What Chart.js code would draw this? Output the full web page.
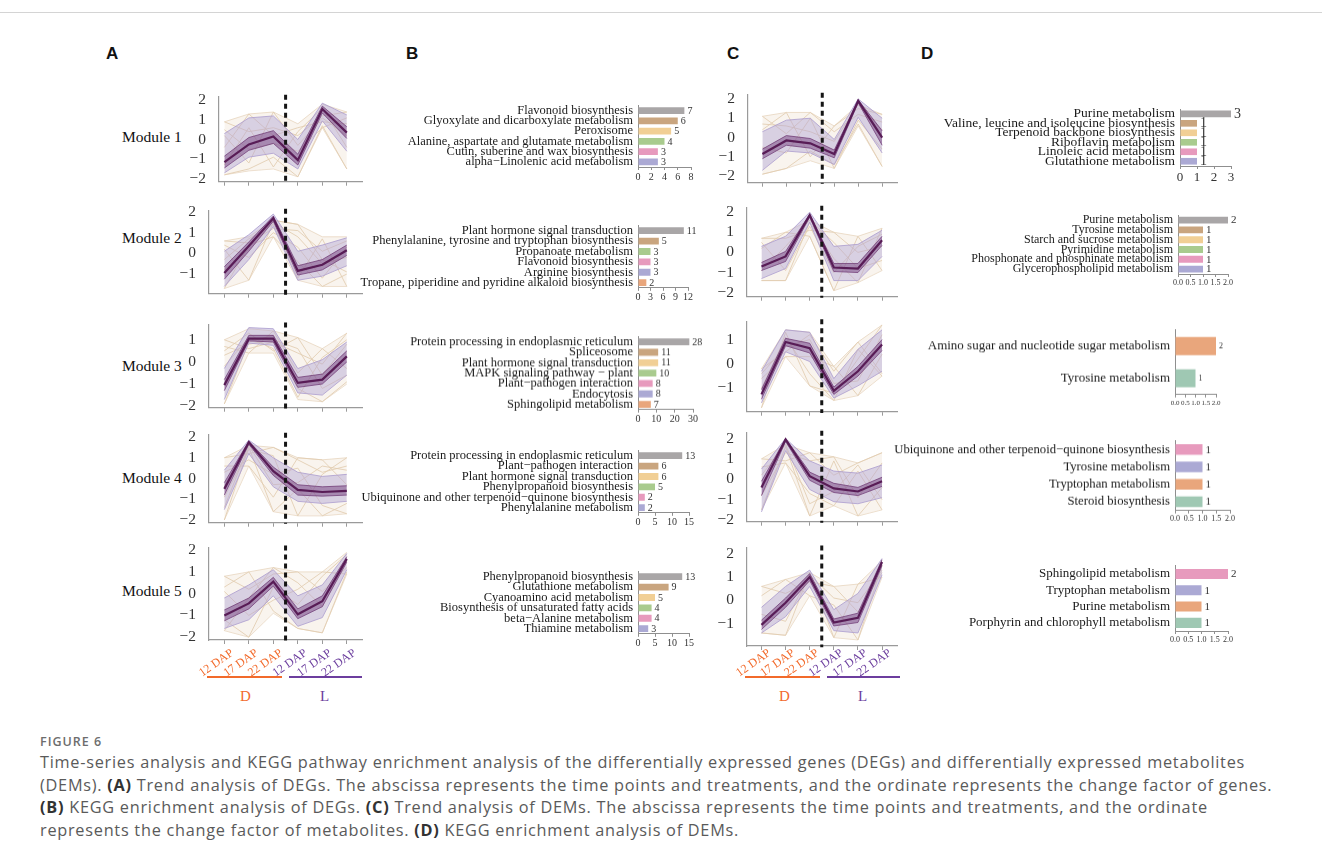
<!DOCTYPE html>
<html>
<head>
<meta charset="utf-8">
<script src="https://cdn.jsdelivr.net/npm/chart.js@4.4.0/dist/chart.umd.min.js"></script>
<style>
  body { margin: 0; background: #fff; width: 1322px; height: 857px; position: relative; overflow: hidden; font-family: 'Liberation Serif', serif; }
  .box { position: absolute; }
  .letter { position: absolute; font: bold 17px 'Liberation Sans', Arial, sans-serif; color: #111; }
  .module { position: absolute; font-size: 15.5px; line-height: 18px; color: #111; }
  .grp { position: absolute; font-size: 15px; }
  .rule { position: absolute; height: 2px; }
  #figtitle { position: absolute; left: 40px; top: 733px; font: 600 12.5px 'Open Sans', sans-serif; color: #6d6d6d; letter-spacing: 1px; }
  #caption { position: absolute; left: 40px; top: 751px; font: 16.3px/22.5px 'Open Sans', sans-serif; letter-spacing: 0.74px; color: #5a5a5a; white-space: nowrap; }
  #caption b { color: #333; }
</style>
</head>
<body>
<div style="position:absolute;left:0;top:12px;width:1322px;height:1px;background:#d4d4d4"></div>

<div class="letter" style="left:106px;top:44px">A</div>
<div class="letter" style="left:406px;top:44px">B</div>
<div class="letter" style="left:727px;top:44px">C</div>
<div class="letter" style="left:921px;top:44px">D</div>

<div class="module" style="left:122px;top:128px">Module 1</div>
<div class="module" style="left:122px;top:229px">Module 2</div>
<div class="module" style="left:122px;top:357px">Module 3</div>
<div class="module" style="left:122px;top:469px">Module 4</div>
<div class="module" style="left:122px;top:582px">Module 5</div>

<div class="rule" style="left:207px;top:676px;width:75px;background:#f26a2b"></div>
<div class="rule" style="left:289px;top:676px;width:73px;background:#6c3e9e"></div>
<div class="grp" style="left:240px;top:688px;color:#f26a2b">D</div>
<div class="grp" style="left:320px;top:688px;color:#6c3e9e">L</div>
<div class="rule" style="left:745px;top:676px;width:75px;background:#f26a2b"></div>
<div class="rule" style="left:827px;top:676px;width:73px;background:#6c3e9e"></div>
<div class="grp" style="left:779px;top:688px;color:#f26a2b">D</div>
<div class="grp" style="left:858px;top:688px;color:#6c3e9e">L</div>

<div id="figtitle">FIGURE 6</div>
<div id="caption">Time-series analysis and KEGG pathway enrichment analysis of the differentially expressed genes (DEGs) and differentially expressed metabolites<br>(DEMs). <b>(A)</b> Trend analysis of DEGs. The abscissa represents the time points and treatments, and the ordinate represents the change factor of genes.<br><b>(B)</b> KEGG enrichment analysis of DEGs. <b>(C)</b> Trend analysis of DEMs. The abscissa represents the time points and treatments, and the ordinate<br>represents the change factor of metabolites. <b>(D)</b> KEGG enrichment analysis of DEMs.</div>

<script>
// ---- time axis ----
const timeLabels = ['12 DAP', '17 DAP', '22 DAP', '12 DAP', '17 DAP', '22 DAP'];
const dividerX = 3.5;

// ---- A: DEG trend modules (core line, inner band, outer band, haze, single lines) ----
const a1Core = [-1.15, -0.25, 0.15, -1.05, 1.55, 0.35];
const a1Inner = [[-0.85, 0.1, 0.45, -0.75, 1.7, 0.65], [-1.45, -0.55, -0.2, -1.3, 1.35, 0.05]];
const a1Band = [[0.3, 1.1, 1.2, 0.0, 1.85, 1.25], [-1.7, -0.9, -0.7, -1.5, 0.95, -0.6]];
const a1Haze = [[0.9, 1.3, 1.4, 0.8, 1.8, 1.4], [-1.8, -1.6, -1.5, -1.9, 0.6, -1.5]];
const a1Beige = [[0.9, 0.4, 0.6, 0.2, 1.2, 1.4], [-0.4, 1.3, 0.2, 0.6, 0.9, 0.8], [-1.8, -1.5, -0.9, -1.9, 0.7, -1.5],
                 [0.2, -1.2, 1.4, -0.3, 1.1, 0.2], [-1.3, 0.6, -1.4, 0.4, 1.6, -0.4], [0.5, -0.5, -0.2, -0.6, 0.6, 1.1]];

const a2Core = [-0.95, 0.35, 1.7, -0.85, -0.55, 0.15];
const a2Inner = [[-0.65, 0.55, 1.8, -0.6, -0.3, 0.4], [-1.25, 0.1, 1.55, -1.05, -0.8, -0.1]];
const a2Band = [[0.1, 0.9, 1.9, 0.1, 0.4, 0.75], [-1.6, -0.3, 1.3, -1.3, -1.1, -0.6]];
const a2Haze = [[0.6, 0.8, 1.6, 1.4, 0.8, 0.8], [-1.7, -1.3, 0.8, -1.3, -1.6, -1.6]];
const a2Beige = [[0.6, 0.5, 1.2, 1.1, 0.1, 0.6], [0.2, -1.3, 1.5, 0.8, -0.5, -0.2], [-1.7, 0.4, 0.8, -0.4, -1.6, -1.0],
                 [-0.3, 0.7, 1.4, -1.2, 0.7, -1.6], [0.4, -0.2, 1.0, 0.3, -1.2, 0.3], [-0.8, 0.2, 1.6, 1.4, -0.3, -0.9]];

const a3Core = [-1.05, 1.05, 1.05, -0.95, -0.8, 0.25];
const a3Inner = [[-0.8, 1.2, 1.2, -0.7, -0.55, 0.5], [-1.3, 0.95, 0.9, -1.15, -1.0, 0.0]];
const a3Band = [[-0.3, 1.55, 1.5, -0.3, 0.1, 0.9], [-1.7, 0.85, 0.75, -1.4, -1.5, -0.6]];
const a3Haze = [[1.0, 1.5, 1.4, 1.1, 0.6, 1.3], [-1.9, 0.4, 0.4, -1.7, -1.8, -1.0]];
const a3Beige = [[1.0, 0.6, 0.9, 0.4, -0.1, 1.3], [0.5, 1.3, 0.5, 1.1, -0.6, 0.8], [-1.9, 0.9, 1.2, -1.2, -1.8, -0.9],
                 [0.7, 0.4, 1.4, -0.5, 0.6, -0.3], [-0.2, 1.1, 0.6, -1.6, 0.2, 1.0], [0.3, 0.8, 1.0, 0.6, -1.2, -0.6]];

const a4Core = [-0.5, 1.75, 0.35, -0.55, -0.65, -0.6];
const a4Inner = [[-0.2, 1.8, 0.55, -0.3, -0.4, -0.35], [-0.8, 1.65, 0.15, -0.8, -0.85, -0.8]];
const a4Band = [[0.4, 1.85, 1.0, 0.3, 0.1, 0.2], [-1.5, 1.2, -0.4, -1.1, -1.2, -1.1]];
const a4Haze = [[1.0, 1.6, 1.5, 1.0, 0.9, 1.0], [-2.0, 0.6, -1.6, -1.8, -1.8, -1.7]];
const a4Beige = [[1.0, 1.2, 1.5, 0.9, 0.3, 0.6], [-2.0, 1.5, -1.6, -0.5, -1.8, -1.2], [0.6, 0.6, -0.9, 1.0, 0.9, -0.3],
                 [-0.9, 1.4, 1.1, -1.8, 0.2, 1.0], [0.3, 0.9, 0.2, 0.5, -1.3, -1.7], [-1.4, 1.6, -0.3, -0.2, 0.6, 0.4]];

const a5Core = [-1.0, -0.45, 0.55, -0.95, -0.35, 1.6];
const a5Inner = [[-0.75, -0.2, 0.75, -0.7, -0.1, 1.7], [-1.25, -0.7, 0.35, -1.15, -0.6, 1.45]];
const a5Band = [[-0.2, 0.4, 1.1, -0.1, 0.4, 1.85], [-1.6, -1.2, -0.1, -1.5, -1.1, 1.1]];
const a5Haze = [[0.8, 1.0, 1.2, 1.0, 1.0, 1.9], [-1.7, -2.0, -0.9, -1.6, -1.8, 0.9]];
const a5Beige = [[0.8, 0.2, 0.9, 1.0, 0.1, 1.2], [-1.2, -2.0, 0.3, -0.5, 0.8, 1.8], [0.3, 1.0, -0.8, -1.6, -1.8, 1.0],
                 [-1.7, -0.2, 1.2, 0.5, -0.6, 1.5], [0.1, -1.0, -0.3, 0.2, 1.0, 0.9]];

// ---- C: DEM trend modules ----
const c1Core = [-0.85, -0.15, -0.3, -0.85, 1.9, 0.0];
const c1Inner = [[-0.6, 0.1, -0.05, -0.65, 1.95, 0.35], [-1.1, -0.4, -0.55, -1.05, 1.8, -0.4]];
const c1Band = [[0.3, 0.9, 1.0, -0.1, 2.0, 1.0], [-1.7, -0.7, -0.8, -1.4, 1.05, -0.8]];
const c1Haze = [[1.1, 1.3, 1.3, 0.6, 1.7, 1.2], [-1.9, -1.6, -1.2, -1.6, 0.6, -1.5]];
const c1Beige = [[1.1, 0.2, 1.3, 0.3, 1.2, 0.8], [-1.9, -1.6, -0.7, -1.4, 0.7, -1.5], [0.4, 1.3, -1.0, 0.6, 1.5, 1.2],
                 [-0.5, -0.8, 1.0, -1.6, 0.9, -0.6], [0.7, 0.6, 0.3, -0.2, 1.7, 0.4]];

const c2Core = [-0.7, -0.2, 1.85, -0.75, -0.8, 0.6];
const c2Inner = [[-0.5, 0.05, 1.9, -0.55, -0.55, 0.8], [-0.9, -0.45, 1.75, -0.95, -1.0, 0.35]];
const c2Band = [[0.3, 0.8, 2.0, 0.3, 0.4, 1.1], [-1.3, -0.8, 1.5, -1.4, -1.4, -0.2]];
const c2Haze = [[0.7, 1.0, 1.6, 1.0, 0.8, 1.2], [-1.4, -1.4, 0.8, -1.9, -1.5, -0.9]];
const c2Beige = [[0.7, 0.7, 1.1, 1.0, 0.0, 0.3], [-1.4, -1.4, 1.5, -0.3, -1.5, 1.2], [0.2, 1.0, 0.8, -1.9, 0.8, -0.9],
                 [-0.9, 0.3, 1.6, 0.5, -0.8, -0.4], [0.5, -0.9, 1.3, -1.0, 0.3, 0.9]];

const c3Core = [-1.25, 0.9, 0.65, -1.1, -0.3, 0.8];
const c3Inner = [[-1.05, 1.05, 0.85, -0.95, -0.1, 1.0], [-1.45, 0.75, 0.45, -1.25, -0.5, 0.55]];
const c3Band = [[-0.3, 1.4, 1.3, -0.6, 0.6, 1.4], [-1.6, 0.5, 0.1, -1.4, -0.9, -0.3]];
const c3Haze = [[-0.2, 1.4, 1.3, -0.1, 0.9, 1.6], [-1.8, 0.3, -0.9, -1.5, -1.3, -0.5]];
const c3Beige = [[-0.2, 0.5, 1.2, -0.3, 0.9, -0.4], [-1.8, 1.3, -0.9, -1.2, 0.2, 1.6], [-0.6, 0.3, 0.3, -0.1, -1.3, 0.4],
                 [-1.0, 1.1, -0.4, -1.5, 0.6, -0.5], [-0.4, 0.7, 1.0, -0.8, -0.7, 1.2]];

const c4Core = [-0.4, 1.95, 0.15, -0.45, -0.6, -0.1];
const c4Inner = [[-0.1, 2.0, 0.35, -0.2, -0.4, 0.1], [-0.8, 1.85, -0.05, -0.65, -0.8, -0.35]];
const c4Band = [[0.5, 2.0, 0.9, 0.4, 0.3, 0.7], [-1.6, 1.4, -0.5, -1.1, -1.2, -0.9]];
const c4Haze = [[1.0, 1.7, 1.3, 1.1, 0.8, 1.3], [-1.5, 0.8, -1.8, -1.3, -1.8, -1.5]];
const c4Beige = [[1.0, 0.9, 1.3, 0.2, 0.8, 1.3], [-1.5, 1.6, -1.8, 0.9, -1.8, -0.4], [0.6, 0.8, -0.7, -1.3, 0.4, -1.5],
                 [-0.8, 1.3, 0.9, 1.1, -0.9, 0.8], [0.2, 1.7, -1.2, -0.6, 0.7, -1.0]];

const c5Core = [-1.05, -0.1, 1.0, -0.95, -0.75, 1.65];
const c5Inner = [[-0.85, 0.1, 1.15, -0.8, -0.55, 1.75], [-1.25, -0.3, 0.85, -1.1, -0.95, 1.5]];
const c5Band = [[-0.3, 0.6, 1.3, -0.4, 0.3, 1.8], [-1.4, -0.7, 0.6, -1.3, -1.4, 1.1]];
const c5Haze = [[0.6, 0.9, 1.2, 0.6, 0.7, 1.7], [-1.4, -1.5, 0.2, -1.6, -1.7, 1.0]];
const c5Beige = [[0.6, 0.3, 0.8, 0.6, -0.5, 1.2], [-1.4, -1.5, 1.2, -1.6, 0.7, 1.0], [0.2, 0.9, 0.2, -0.2, -1.7, 1.5],
                 [-0.6, -0.9, 1.1, 0.1, -0.1, 1.3]];

// ---- B: KEGG enrichment of DEGs ----
const b1Paths = ['Flavonoid biosynthesis', 'Glyoxylate and dicarboxylate metabolism', 'Peroxisome',
                 'Alanine, aspartate and glutamate metabolism', 'Cutin, suberine and wax biosynthesis', 'alpha\u2212Linolenic acid metabolism'];
const b1Counts = [7, 6, 5, 4, 3, 3];
const b2Paths = ['Plant hormone signal transduction', 'Phenylalanine, tyrosine and tryptophan biosynthesis', 'Propanoate metabolism',
                 'Flavonoid biosynthesis', 'Arginine biosynthesis', 'Tropane, piperidine and pyridine alkaloid biosynthesis'];
const b2Counts = [11, 5, 3, 3, 3, 2];
const b3Paths = ['Protein processing in endoplasmic reticulum', 'Spliceosome', 'Plant hormone signal transduction',
                 'MAPK signaling pathway \u2212 plant', 'Plant\u2212pathogen interaction', 'Endocytosis', 'Sphingolipid metabolism'];
const b3Counts = [28, 11, 11, 10, 8, 8, 7];
const b4Paths = ['Protein processing in endoplasmic reticulum', 'Plant\u2212pathogen interaction', 'Plant hormone signal transduction',
                 'Phenylpropanoid biosynthesis', 'Ubiquinone and other terpenoid\u2212quinone biosynthesis', 'Phenylalanine metabolism'];
const b4Counts = [13, 6, 6, 5, 2, 2];
const b5Paths = ['Phenylpropanoid biosynthesis', 'Glutathione metabolism', 'Cyanoamino acid metabolism',
                 'Biosynthesis of unsaturated fatty acids', 'beta\u2212Alanine metabolism', 'Thiamine metabolism'];
const b5Counts = [13, 9, 5, 4, 4, 3];

// ---- D: KEGG enrichment of DEMs ----
const d1Paths = ['Purine metabolism', 'Valine, leucine and isoleucine biosynthesis', 'Terpenoid backbone biosynthesis',
                 'Riboflavin metabolism', 'Linoleic acid metabolism', 'Glutathione metabolism'];
const d1Counts = [3, 1, 1, 1, 1, 1];
const d2Paths = ['Purine metabolism', 'Tyrosine metabolism', 'Starch and sucrose metabolism', 'Pyrimidine metabolism',
                 'Phosphonate and phosphinate metabolism', 'Glycerophospholipid metabolism'];
const d2Counts = [2, 1, 1, 1, 1, 1];
const d3Paths = ['Amino sugar and nucleotide sugar metabolism', 'Tyrosine metabolism'];
const d3Counts = [2, 1];
const d4Paths = ['Ubiquinone and other terpenoid\u2212quinone biosynthesis', 'Tyrosine metabolism', 'Tryptophan metabolism', 'Steroid biosynthesis'];
const d4Counts = [1, 1, 1, 1];
const d5Paths = ['Sphingolipid metabolism', 'Tryptophan metabolism', 'Purine metabolism', 'Porphyrin and chlorophyll metabolism'];
const d5Counts = [2, 1, 1, 1];

// palette
const GRAY = '#a9a6a7', TAN = '#c9a57f', YEL = '#f1cf95', GRN = '#a9cb8e', PINK = '#e79abd',
      LAV = '#aba9d4', ORA = '#e9a67c', TEAL = '#9fc8b3';
const ORANGE = '#f26a2b', PURPLE = '#6c3e9e';
const SERIF = "'Liberation Serif', 'Times New Roman', serif";

function addBox(area, pad) {
  const div = document.createElement('div');
  div.className = 'box';
  div.style.left = (area.l - pad.l) + 'px';
  div.style.top = (area.t - pad.t) + 'px';
  div.style.width = (area.r - area.l + pad.l + pad.r) + 'px';
  div.style.height = (area.b - area.t + pad.t + pad.b) + 'px';
  const cv = document.createElement('canvas');
  div.appendChild(cv);
  document.body.appendChild(div);
  return cv;
}

const pts = arr => arr.map((y, i) => ({ x: i + 1, y }));

function trendChart(area, xMin, yMin, yMax, yTicks, core, inner, band, haze, beige, labelPad) {
  const withLabels = labelPad !== undefined;
  const pad = { l: 45, t: 10, r: 10, b: withLabels ? 50 : 10 };
  const cv = addBox(area, pad);
  const datasets = [
    { data: [{ x: dividerX, y: yMax + 0.08 }, { x: dividerX, y: yMin - 0.05 }], borderColor: '#151515', borderWidth: 3,
      borderDash: [5, 4], order: 0, clip: false },
    { data: pts(core), borderColor: '#581c56', borderWidth: 2.2, order: 1 },
    { data: pts(inner[0]), borderColor: 'rgba(105,50,110,0.7)', borderWidth: 1, fill: '+1', backgroundColor: 'rgba(118,66,128,0.5)', order: 2 },
    { data: pts(inner[1]), borderColor: 'rgba(105,50,110,0.7)', borderWidth: 1, order: 2 },
    { data: pts(band[0]), borderColor: 'rgba(170,155,205,0.8)', borderWidth: 1, fill: '+1', backgroundColor: 'rgba(178,163,212,0.45)', order: 3 },
    { data: pts(band[1]), borderColor: 'rgba(170,155,205,0.8)', borderWidth: 1, order: 3 },
  ];
  beige.forEach(line => datasets.push({ data: pts(line), borderColor: 'rgba(226,204,176,0.85)', borderWidth: 1, order: 4 }));
  datasets.push({ data: pts(haze[0]), borderColor: 'rgba(228,208,182,0.7)', borderWidth: 1, fill: '+1', backgroundColor: 'rgba(240,228,212,0.4)', order: 5 });
  datasets.push({ data: pts(haze[1]), borderColor: 'rgba(228,208,182,0.7)', borderWidth: 1, order: 5 });

  return new Chart(cv.getContext('2d'), {
    type: 'line',
    data: { datasets },
    options: {
      responsive: true, maintainAspectRatio: false, animation: false,
      layout: { padding: { top: pad.t, right: pad.r, left: 0, bottom: 0 } },
      plugins: { legend: { display: false }, tooltip: { enabled: false } },
      elements: { point: { radius: 0 }, line: { tension: 0 } },
      scales: {
        x: {
          type: 'linear', min: xMin, max: 6.62,
          afterBuildTicks: s => { s.ticks = timeLabels.map((_, i) => ({ value: i + 1 })); },
          afterFit: s => { s.height = pad.b; },
          grid: { drawOnChartArea: false, tickLength: 4, color: '#9a9a9a' },
          border: { color: '#9a9a9a', width: 1.2 },
          ticks: {
            display: withLabels, autoSkip: false, minRotation: 35, maxRotation: 35,
            padding: withLabels ? labelPad : 2, labelOffset: 8,
            callback: v => timeLabels[v - 1],
            color: ctx => (ctx.index < 3 ? ORANGE : PURPLE),
            font: { family: SERIF, size: 12 }
          }
        },
        y: {
          min: yMin, max: yMax,
          afterBuildTicks: s => { s.ticks = yTicks.map(v => ({ value: v })); },
          afterFit: s => { s.width = pad.l; },
          grid: { display: false },
          border: { color: '#9a9a9a', width: 1.2 },
          ticks: {
            padding: 5, color: '#333',
            callback: v => (v < 0 ? '\u2212' + (-v) : String(v)),
            font: { family: SERIF, size: 15.5 }
          }
        }
      }
    }
  });
}

const valueLabels = {
  id: 'valueLabels',
  afterDatasetsDraw(chart, args, opts) {
    const { ctx } = chart;
    const meta = chart.getDatasetMeta(0);
    ctx.save();
    ctx.font = opts.size + 'px ' + SERIF;
    ctx.fillStyle = '#333';
    ctx.textBaseline = 'middle';
    meta.data.forEach((bar, i) => {
      ctx.fillText(String(chart.data.datasets[0].data[i]), bar.x + opts.gap, bar.y + 0.5);
    });
    ctx.restore();
  }
};

function barChart(area, labels, values, colors, xMax, xStep, f) {
  const pad = { l: 320, t: 10, r: 24, b: 22 };
  const cv = addBox(area, pad);
  return new Chart(cv.getContext('2d'), {
    type: 'bar',
    data: { labels, datasets: [{ data: values, backgroundColor: colors, barPercentage: f.bar, categoryPercentage: 1 }] },
    options: {
      indexAxis: 'y', responsive: true, maintainAspectRatio: false, animation: false,
      layout: { padding: { top: pad.t, right: pad.r, left: 0, bottom: 0 } },
      plugins: { legend: { display: false }, tooltip: { enabled: false }, valueLabels: { size: f.value, gap: 3 } },
      scales: {
        x: {
          min: 0, max: xMax,
          afterFit: s => { s.height = pad.b; },
          grid: { drawOnChartArea: false, tickLength: 3, color: '#8f8f8f' },
          border: { color: '#8f8f8f' },
          ticks: {
            stepSize: xStep, autoSkip: false, maxRotation: 0, padding: 1, color: '#333',
            callback: v => (xStep < 1 ? v.toFixed(1) : String(v)),
            font: { family: SERIF, size: f.tick }
          }
        },
        y: {
          afterFit: s => { s.width = pad.l; },
          grid: { drawOnChartArea: false, drawTicks: false },
          border: { color: '#8f8f8f' },
          ticks: { autoSkip: false, padding: 5, color: '#1a1a1a', font: { family: SERIF, size: f.label } }
        }
      }
    },
    plugins: [valueLabels]
  });
}

// ---- panel A ----
trendChart({ l: 219, r: 362, t: 92, b: 186 }, 0.78, -2.15, 2.2, [-2, -1, 0, 1, 2], a1Core, a1Inner, a1Band, a1Haze, a1Beige);
trendChart({ l: 209, r: 362, t: 206, b: 298 }, 0.375, -1.95, 2.08, [-1, 0, 1, 2], a2Core, a2Inner, a2Band, a2Haze, a2Beige);
trendChart({ l: 209, r: 362, t: 320, b: 412 }, 0.375, -2.07, 1.7, [-2, -1, 0, 1], a3Core, a3Inner, a3Band, a3Haze, a3Beige);
trendChart({ l: 209, r: 362, t: 430, b: 527 }, 0.375, -2.13, 2.13, [-2, -1, 0, 1, 2], a4Core, a4Inner, a4Band, a4Haze, a4Beige);
trendChart({ l: 209, r: 362, t: 543, b: 640 }, 0.375, -2.13, 2.13, [-2, -1, 0, 1, 2], a5Core, a5Inner, a5Band, a5Haze, a5Beige, 2);

// ---- panel C ----
trendChart({ l: 748, r: 897, t: 90, b: 187 }, 0.4, -2.34, 2.24, [-2, -1, 0, 1, 2], c1Core, c1Inner, c1Band, c1Haze, c1Beige);
trendChart({ l: 747, r: 897, t: 203, b: 301 }, 0.4, -2.2, 2.24, [-2, -1, 0, 1, 2], c2Core, c2Inner, c2Band, c2Haze, c2Beige);
trendChart({ l: 747, r: 897, t: 317, b: 416 }, 0.4, -1.96, 1.75, [-1, 0, 1], c3Core, c3Inner, c3Band, c3Haze, c3Beige);
trendChart({ l: 747, r: 897, t: 428, b: 526 }, 0.4, -2.08, 2.3, [-2, -1, 0, 1, 2], c4Core, c4Inner, c4Band, c4Haze, c4Beige);
trendChart({ l: 747, r: 897, t: 543, b: 646 }, 0.4, -1.96, 2.28, [-1, 0, 1, 2], c5Core, c5Inner, c5Band, c5Haze, c5Beige, -4);

// ---- panel B ----
const bFont = { label: 12.5, value: 10, tick: 10, bar: 0.66 };
barChart({ l: 638, r: 691, t: 103, b: 167 }, b1Paths, b1Counts, [GRAY, TAN, YEL, GRN, PINK, LAV], 8, 2, bFont);
barChart({ l: 638, r: 688, t: 222.6, b: 287.4 }, b2Paths, b2Counts, [GRAY, TAN, GRN, PINK, LAV, ORA], 12, 3, bFont);
barChart({ l: 638, r: 693, t: 334, b: 408.7 }, b3Paths, b3Counts, [GRAY, TAN, YEL, GRN, PINK, LAV, ORA], 30, 10, bFont);
barChart({ l: 638, r: 689, t: 447.6, b: 512.4 }, b4Paths, b4Counts, [GRAY, TAN, YEL, GRN, PINK, LAV], 15, 5, bFont);
barChart({ l: 638, r: 689, t: 568.6, b: 633.4 }, b5Paths, b5Counts, [GRAY, TAN, YEL, GRN, PINK, LAV], 15, 5, bFont);

// ---- panel D ----
barChart({ l: 1180, r: 1231, t: 105.7, b: 165.7 }, d1Paths, d1Counts, [GRAY, TAN, YEL, GRN, PINK, LAV], 3, 1,
         { label: 13.5, value: 14, tick: 13, bar: 0.7 });
barChart({ l: 1178, r: 1228, t: 213, b: 274 }, d2Paths, d2Counts, [GRAY, TAN, YEL, GRN, PINK, LAV], 2, 0.5,
         { label: 12, value: 11, tick: 8, bar: 0.7 });
barChart({ l: 1175, r: 1216, t: 327.4, b: 394 }, d3Paths, d3Counts, [ORA, TEAL], 2, 0.5,
         { label: 13, value: 8, tick: 7, bar: 0.56 });
barChart({ l: 1175, r: 1230, t: 438.4, b: 510 }, d4Paths, d4Counts, [PINK, LAV, ORA, TEAL], 2, 0.5,
         { label: 12.7, value: 11, tick: 8, bar: 0.62 });
barChart({ l: 1175, r: 1228, t: 563.2, b: 631.2 }, d5Paths, d5Counts, [PINK, LAV, ORA, TEAL], 2, 0.5,
         { label: 13, value: 11, tick: 8, bar: 0.62 });
</script>
</body>
</html>
